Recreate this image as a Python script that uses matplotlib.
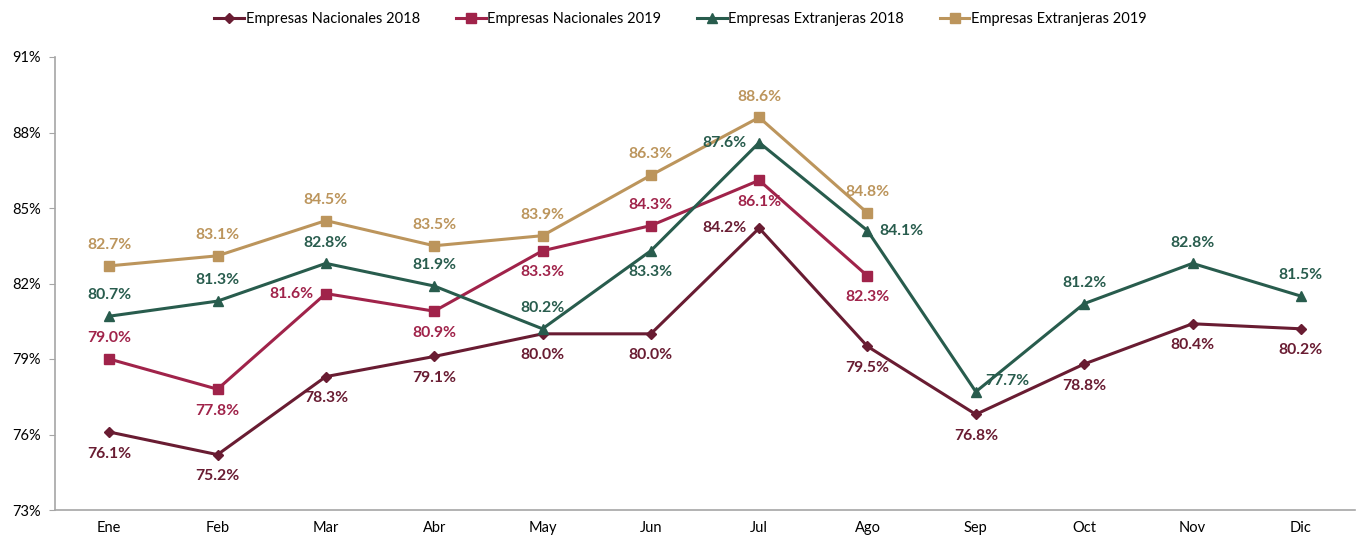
import matplotlib
matplotlib.use("Agg")
import matplotlib.pyplot as plt

months = ["Ene", "Feb", "Mar", "Abr", "May", "Jun", "Jul", "Ago", "Sep", "Oct", "Nov", "Dic"]
nac_2018 = [76.1, 75.2, 78.3, 79.1, 80.0, 80.0, 84.2, 79.5, 76.8, 78.8, 80.4, 80.2]
nac_2019 = [79.0, 77.8, 81.6, 80.9, 83.3, 84.3, 86.1, 82.3]
ext_2018 = [80.7, 81.3, 82.8, 81.9, 80.2, 83.3, 87.6, 84.1, 77.7, 81.2, 82.8, 81.5]
ext_2019 = [82.7, 83.1, 84.5, 83.5, 83.9, 86.3, 88.6, 84.8]
names = ["Empresas Nacionales 2018", "Empresas Nacionales 2019",
         "Empresas Extranjeras 2018", "Empresas Extranjeras 2019"]
yticks = [73, 76, 79, 82, 85, 88, 91]

colors = ["#691C32", "#A0234A", "#285C4D", "#BC955C"]
markers = ["D", "s", "^", "s"]
msizes = [5.5, 7, 7.5, 7]
pl_nac18 = ["b", "b", "b", "b", "b", "b", "l", "b", "b", "b", "b", "b"]
pl_nac19 = ["a", "b", "l", "b", "b", "a", "b", "b"]
pl_ext18 = ["a", "a", "a", "a", "a", "b", "l", "r", "ur", "a", "a", "a"]
pl_ext19 = ["a"] * 8

plt.rcParams['font.family'] = ['Lato', 'DejaVu Sans']
fig = plt.figure(figsize=(13.61, 5.39), dpi=100)
ax = fig.add_axes([55/1361, 29/539, 1300/1361, 453/539])

series = [nac_2018, nac_2019, ext_2018, ext_2019]
places = [pl_nac18, pl_nac19, pl_ext18, pl_ext19]
offs = {"a": (0, 15, "center"), "b": (0, -15.5, "center"), "l": (-9, 0, "right"),
        "r": (8.5, 0, "left"), "ur": (7, 8, "left")}
for vals, name, c, m, ms, pl in zip(series, names, colors, markers, msizes, places):
    x = list(range(len(vals)))
    ax.plot(x, vals, color=c, lw=2.2, marker=m, ms=ms, label=name, zorder=3)
    for xi, v, p in zip(x, vals, pl):
        dx, dy, ha = offs[p]
        ax.annotate(f"{v:.1f}%", (xi, v), xytext=(dx, dy), textcoords="offset points",
                    ha=ha, va="center", fontsize=11.3, fontweight="bold", color=c, zorder=4)

ax.set_xlim(-0.5, 11.5)
ax.set_ylim(73, 91)
ax.set_yticks(yticks)
ax.set_yticklabels([f"{t}%" for t in yticks], fontsize=10.5)
ax.set_xticks(range(12))
ax.set_xticklabels(months, fontsize=10.5)
ax.tick_params(axis="x", length=0, pad=8)
ax.tick_params(axis="y", length=4, color="#A6A6A6", pad=6)
for s in ["top", "right"]:
    ax.spines[s].set_visible(False)
for s in ["left", "bottom"]:
    ax.spines[s].set_color("#A6A6A6")
    ax.spines[s].set_linewidth(1.2)

fig.legend(*ax.get_legend_handles_labels(), loc="center", bbox_to_anchor=(0.5, 1 - 19/539),
           ncol=4, frameon=False, fontsize=10.5, handlelength=2.05, handletextpad=0.1,
           columnspacing=2.45)
fig.savefig("out.png", dpi=100)
